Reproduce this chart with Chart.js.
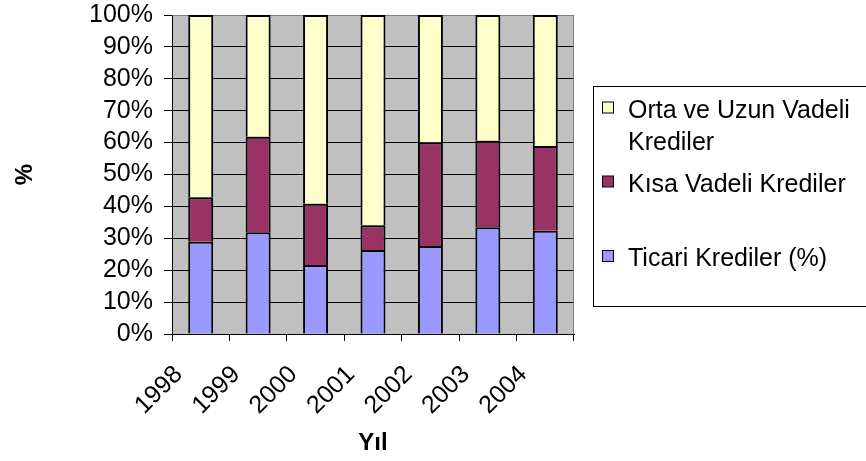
<!DOCTYPE html>
<html>
<head>
<meta charset="utf-8">
<script src="https://cdn.jsdelivr.net/npm/chart.js@4.4.0/dist/chart.umd.min.js"></script>
<style>
  html, body { margin: 0; padding: 0; background: #fff; }
  #c { display: block; }
</style>
</head>
<body>
<canvas id="c" width="866" height="461"></canvas>
<script>
// Kredi türlerinin yıllara göre payı (%)
const years = ['1998', '1999', '2000', '2001', '2002', '2003', '2004'];
const ticariKrediler = [28.9, 31.9, 21.6, 26.3, 27.6, 33.5, 32.4];
const kisaVadeliKrediler = [14.0, 29.9, 19.2, 7.8, 32.4, 27.1, 26.5];
const ortaUzunVadeliKrediler = [57.1, 38.2, 59.2, 65.9, 40.0, 39.4, 41.1];
const seriesLabels = ['Ticari Krediler (%)', 'Kısa Vadeli Krediler', 'Orta ve Uzun Vadeli Krediler'];
const seriesColors = ['#9999ff', '#993366', '#ffffcc'];

const FONT = "'Liberation Sans', Arial, Helvetica, sans-serif";
Chart.defaults.font.family = FONT;
Chart.defaults.color = '#000';

// Gray plot-area background
const plotBackground = {
  id: 'plotBackground',
  beforeDraw(chart) {
    const { ctx, chartArea: a } = chart;
    ctx.save();
    ctx.fillStyle = '#c0c0c0';
    ctx.fillRect(a.left, a.top, a.right - a.left, a.bottom - a.top);
    ctx.restore();
  },
  beforeDatasetsDraw(chart) {
    // gray frame on the top and right of the plot area
    const { ctx, chartArea: a } = chart;
    ctx.save();
    ctx.strokeStyle = '#808080';
    ctx.lineWidth = 1;
    ctx.beginPath();
    ctx.moveTo(Math.round(a.left) + 0.5, Math.round(a.top) + 0.5);
    ctx.lineTo(Math.round(a.right) - 0.5, Math.round(a.top) + 0.5);
    ctx.lineTo(Math.round(a.right) - 0.5, Math.round(a.bottom));
    ctx.stroke();
    ctx.restore();
  }
};

// Boxed legend on the right, series listed top to bottom as stacked
const boxLegend = {
  id: 'boxLegend',
  afterDraw(chart) {
    const { ctx } = chart;
    const box = { left: 593.5, top: 86.5, bottom: 306.5, right: 880 };
    const textX = 628, markX = 602.5, markSize = 11, lineGap = 32.5;
    const firstBaselines = [117.5, 191.5, 266];
    const maxWidth = 238;
    ctx.save();
    ctx.strokeStyle = '#000';
    ctx.lineWidth = 1;
    ctx.strokeRect(box.left, box.top, box.right - box.left, box.bottom - box.top);
    ctx.font = '25px ' + FONT;
    ctx.textBaseline = 'alphabetic';
    ctx.textAlign = 'left';
    const ds = chart.data.datasets.slice().reverse();
    ds.forEach((d, i) => {
      // wrap label into lines that fit the box
      const words = d.label.split(' ');
      const lines = [];
      let cur = '';
      words.forEach(w => {
        const t = cur ? cur + ' ' + w : w;
        if (ctx.measureText(t).width > maxWidth && cur) { lines.push(cur); cur = w; }
        else cur = t;
      });
      if (cur) lines.push(cur);
      const base = firstBaselines[i];
      ctx.fillStyle = d.backgroundColor;
      ctx.fillRect(markX, base - 15.5, markSize, markSize);
      ctx.strokeStyle = '#000';
      ctx.strokeRect(markX, base - 15.5, markSize, markSize);
      ctx.fillStyle = '#000';
      lines.forEach((ln, k) => ctx.fillText(ln, textX, base + k * lineGap));
    });
    ctx.restore();
  }
};

new Chart(document.getElementById('c'), {
  type: 'bar',
  data: {
    labels: years,
    datasets: [
      { label: seriesLabels[0], data: ticariKrediler, backgroundColor: seriesColors[0] },
      { label: seriesLabels[1], data: kisaVadeliKrediler, backgroundColor: seriesColors[1] },
      { label: seriesLabels[2], data: ortaUzunVadeliKrediler, backgroundColor: seriesColors[2] }
    ]
  },
  options: {
    responsive: false,
    animation: false,
    layout: { padding: { top: 15, right: 292, left: 0, bottom: 0 } },
    datasets: {
      bar: {
        borderColor: '#000',
        borderWidth: 2,
        borderSkipped: 'bottom',
        barPercentage: 0.435,
        categoryPercentage: 1
      }
    },
    plugins: { legend: { display: false }, tooltip: { enabled: false } },
    scales: {
      x: {
        stacked: true,
        grid: { drawOnChartArea: false, drawTicks: true, tickLength: 7, color: '#000', offset: true },
        border: { color: '#000', width: 1 },
        ticks: { minRotation: 45, maxRotation: 45, autoSkip: false, labelOffset: -22, padding: 19, font: { size: 25 } },
        title: { display: true, text: 'Yıl', font: { size: 24, weight: 'bold' }, padding: { top: 0, bottom: 3 } },
        afterFit(s) { s.height = 127; s.paddingLeft = 0; s.paddingRight = 0; }
      },
      y: {
        stacked: true,
        min: 0,
        max: 100,
        ticks: { stepSize: 10, autoSkip: false, callback: v => v + '%', padding: 11, font: { size: 25 } },
        grid: { color: '#000', tickLength: 8 },
        border: { color: '#000', width: 1 },
        title: { display: true, text: '%', font: { size: 24, weight: 'bold' }, padding: { top: 11, bottom: 0 } },
        afterFit(s) { s.width = 172; s.paddingTop = 0; s.paddingBottom = 0; }
      }
    }
  },
  plugins: [plotBackground, boxLegend]
});
</script>
</body>
</html>
